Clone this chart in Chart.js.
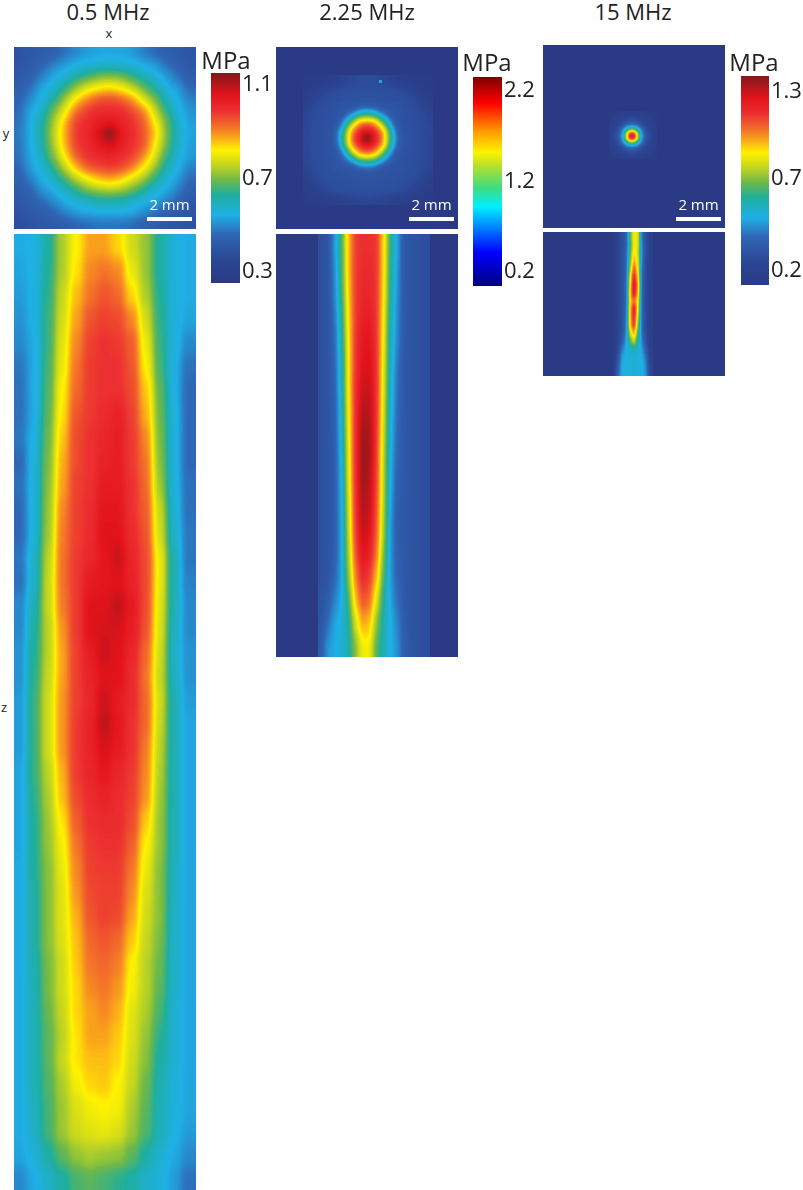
<!DOCTYPE html>
<html>
<head>
<meta charset="utf-8">
<title>Pressure field maps</title>
<script src="https://cdn.jsdelivr.net/npm/chart.js@4"></script>
<style>
  html, body { margin: 0; background: #fff; }
  #page { position: relative; width: 803px; height: 1190px; overflow: hidden; font-family: "Open Sans", sans-serif; color: #222; }
  #page canvas, .panel, .txt, .bar { position: absolute; }
  .panel { overflow: hidden; }
  .txt { white-space: nowrap; transform: translate(-50%, -50%); }
  .bar { background: #fff; }
</style>
</head>
<body>
<div id="page"></div>
<script>
// all field values are MPa x 100
const xy05 = [
  [39,41,43,44,47,50,52,53,53,53,52,49,46,44,42,40],
  [40,42,45,49,52,55,56,57,58,57,56,54,52,47,44,41],
  [41,44,49,54,56,62,66,70,71,70,65,60,56,52,47,43],
  [43,47,53,56,64,72,79,82,84,81,76,69,62,55,52,46],
  [45,50,55,62,72,83,90,95,96,94,89,78,70,59,54,49],
  [46,53,58,69,79,92,98,100,100,100,96,90,76,64,56,51],
  [47,54,61,73,85,97,100,103,105,102,99,94,82,69,58,52],
  [48,54,62,74,87,98,101,107,115,105,100,95,85,70,58,53],
  [47,54,61,73,86,97,100,104,108,103,99,95,82,69,58,52],
  [47,53,59,70,82,94,99,101,102,100,97,90,78,65,56,52],
  [45,52,56,64,75,86,94,96,98,96,91,82,72,60,55,49],
  [44,49,54,58,66,75,81,86,88,85,79,73,64,56,52,46],
  [42,45,51,54,58,64,70,73,74,73,69,63,56,54,49,44],
  [41,43,46,50,54,56,58,60,61,60,57,55,53,49,45,41],
  [39,41,43,45,49,52,53,54,54,54,53,50,47,44,42,40],
  [38,39,41,42,43,45,46,47,47,47,46,44,43,41,40,39]
];
const xz05 = [
  [54,55,62,74,82,88,88,84,77,72,62,56,54],
  [53,55,63,74,83,90,92,90,80,72,62,56,54],
  [52,55,64,76,86,92,95,93,84,74,63,56,54],
  [51,55,65,77,88,95,97,96,90,77,64,56,53],
  [50,54,65,79,90,97,99,98,94,80,65,56,50],
  [48,54,66,80,92,98,99,99,95,82,66,55,47],
  [47,54,67,82,93,98,99,99,96,85,68,55,46],
  [47,54,68,83,95,98,100,102,97,87,69,56,46],
  [48,55,69,85,96,99,101,103,98,90,70,56,46],
  [46,56,70,87,96,99,102,103,98,92,71,56,46],
  [47,56,71,88,97,99,104,104,99,93,73,56,47],
  [46,56,72,90,97,100,105,105,99,94,76,57,47],
  [46,56,73,91,97,100,106,106,100,95,77,58,48],
  [48,58,75,92,98,101,105,108,101,96,80,60,48],
  [47,58,76,92,98,104,105,106,102,96,80,60,49],
  [50,60,76,91,98,106,106,109,104,96,79,60,50],
  [50,62,75,89,98,106,107,107,103,95,78,59,50],
  [51,63,75,88,97,103,108,106,101,93,77,58,51],
  [51,64,76,88,97,102,106,106,100,92,76,59,51],
  [52,65,77,89,97,101,108,104,100,93,77,60,52],
  [52,65,77,89,98,102,109,105,99,93,76,60,53],
  [52,65,77,89,98,102,107,104,99,91,75,60,53],
  [53,65,75,87,98,101,105,101,98,90,74,60,53],
  [53,64,74,86,96,100,102,100,97,89,73,60,53],
  [53,63,73,83,94,99,100,100,96,85,72,60,53],
  [53,63,72,81,92,98,99,99,94,82,72,60,53],
  [54,63,71,80,90,97,98,98,92,80,71,59,53],
  [54,62,71,79,89,96,97,97,90,78,71,59,53],
  [54,62,71,79,87,95,97,96,88,77,71,58,53],
  [54,62,71,78,86,93,95,93,85,76,70,58,53],
  [54,61,70,77,85,92,93,91,82,75,69,58,53],
  [54,60,70,77,84,90,92,89,81,75,68,58,53],
  [54,60,69,76,84,88,90,87,79,74,66,57,53],
  [54,60,68,75,83,88,88,85,78,72,64,57,53],
  [54,60,68,76,83,86,86,84,77,71,62,57,53],
  [54,60,67,74,81,84,85,82,76,69,61,56,53],
  [54,59,66,73,78,81,82,81,74,68,60,56,53],
  [54,58,66,73,77,79,80,78,73,67,60,55,52],
  [53,56,62,68,72,74,73,72,68,62,57,54,50],
  [50,54,58,62,66,68,66,64,62,58,56,52,47]
];
const xy225Halo = [
  [12,12,12,16,28,33,34,33,28,16,12,12,12],
  [12,18,32,37,38,38,38,38,38,37,32,18,12],
  [16,32,37,38,39,40,40,40,39,38,37,32,16],
  [26,36,38,39,41,43,44,43,41,39,38,36,26],
  [28,37,38,41,44,46,47,46,44,41,38,37,28],
  [30,37,39,43,46,48,48,48,46,43,39,37,30],
  [30,37,40,44,47,48,48,48,47,44,40,37,30],
  [30,37,39,43,46,48,48,48,46,43,39,37,30],
  [28,37,38,41,44,46,47,46,44,41,38,37,28],
  [26,36,38,39,41,43,44,43,41,39,38,36,26],
  [16,32,37,38,39,40,40,40,39,38,37,32,16],
  [12,18,32,37,38,38,38,38,38,37,32,18,12],
  [12,12,12,14,20,26,28,26,20,14,12,12,12]
];
const xy225Core = [
  [40,40,41,42,43,44,45,45,44,43,42,41,40,40],
  [41,42,44,46,56,72,78,78,72,56,46,44,42,41],
  [42,44,52,72,90,106,114,114,106,90,72,52,44,42],
  [42,46,72,98,125,150,155,155,150,125,98,72,46,42],
  [43,56,90,125,155,175,188,188,175,155,125,90,56,43],
  [44,72,106,150,175,198,205,205,198,175,150,106,72,44],
  [45,78,114,155,188,205,232,232,205,188,155,114,78,45],
  [45,78,114,155,188,205,232,232,205,188,155,114,78,45],
  [44,72,106,150,175,198,205,205,198,175,150,106,72,44],
  [43,56,90,125,155,175,188,188,175,155,125,90,56,43],
  [42,46,72,98,125,150,155,155,150,125,98,72,46,42],
  [42,44,52,72,90,106,114,114,106,90,72,52,44,42],
  [41,42,44,46,56,72,78,78,72,56,46,44,42,41],
  [40,40,41,42,43,44,45,45,44,43,42,41,40,40]
];
const xy225Dot = [[75]];
const xz225 = [
  [38,42,72,110,160,190,195,195,192,155,105,74,45,42,40,36],
  [38,42,68,108,160,190,197,197,192,155,102,72,45,42,40,36],
  [38,42,66,106,158,190,198,200,192,153,100,70,45,42,40,36],
  [38,42,62,100,155,190,203,205,192,150,96,68,45,42,40,36],
  [38,42,58,95,152,192,208,210,193,148,92,66,45,42,40,36],
  [38,42,56,92,150,193,212,214,194,145,90,62,45,42,40,36],
  [38,42,54,90,150,195,216,218,195,143,88,60,45,42,40,36],
  [38,42,52,88,148,196,224,222,194,140,85,58,46,42,40,36],
  [38,42,52,85,146,196,228,225,192,138,82,56,46,42,40,36],
  [38,42,50,82,144,196,230,226,190,135,80,54,46,42,40,36],
  [38,42,50,80,142,195,228,222,188,134,78,52,46,42,40,36],
  [38,42,50,78,138,194,225,218,186,132,75,50,45,42,40,36],
  [38,42,50,76,135,190,220,212,182,130,72,50,45,42,40,36],
  [38,42,52,76,130,184,212,204,176,122,72,52,45,42,40,36],
  [38,42,56,76,124,174,198,190,162,112,72,54,45,42,40,36],
  [40,48,65,78,110,160,185,178,142,102,75,60,46,42,40,36],
  [42,60,75,84,100,140,165,160,124,96,80,66,48,42,40,36],
  [48,72,78,84,98,122,148,148,112,94,80,70,50,43,40,36]
];
const xy15 = [
  [15,15,15,17,18,19,19,18,17,15,15,15],
  [15,16,19,22,24,26,26,24,22,19,16,15],
  [15,19,24,26,30,32,32,30,26,24,19,15],
  [17,22,26,32,44,50,50,44,32,26,22,17],
  [18,24,30,44,62,80,80,62,44,30,24,18],
  [19,26,32,50,80,120,120,80,50,32,26,19],
  [19,26,32,50,80,120,120,80,50,32,26,19],
  [18,24,30,44,62,80,80,62,44,30,24,18],
  [17,22,26,32,44,50,50,44,32,26,22,17],
  [15,19,24,26,30,32,32,30,26,24,19,15],
  [15,16,19,22,24,26,26,24,22,19,16,15],
  [15,15,15,17,18,19,19,18,17,15,15,15]
];
const xz15 = [
  [15,22,30,36,70,92,88,42,30,18],
  [15,24,30,36,66,92,88,45,30,18],
  [15,24,30,38,70,96,86,45,30,18],
  [15,24,30,38,74,102,88,45,28,18],
  [15,24,30,38,80,112,92,42,28,18],
  [15,24,30,38,88,122,96,40,28,18],
  [15,24,30,40,92,128,102,40,26,18],
  [15,24,30,40,95,126,98,40,26,18],
  [15,24,30,40,94,108,92,40,26,18],
  [15,24,30,42,96,124,90,40,26,18],
  [15,24,30,42,96,122,84,40,26,18],
  [15,24,30,44,95,118,78,40,26,18],
  [15,24,32,46,84,102,70,42,28,18],
  [15,24,36,50,72,86,62,46,30,18],
  [15,26,44,52,58,62,56,50,36,20],
  [16,32,50,54,55,56,55,52,42,22],
  [18,36,52,54,55,56,55,54,46,24],
  [20,40,52,54,55,56,55,54,48,26]
];

// colorbar ranges and ticks (MPa)
const range05 = [0.253, 1.151];
const ticks05 = [1.1, 0.7, 0.3];
const labels05 = ['1.1', '0.7', '0.3'];
const range225 = [0.046, 2.354];
const ticks225 = [2.2, 1.2, 0.2];
const labels225 = ['2.2', '1.2', '0.2'];
const range15 = [0.114, 1.398];
const ticks15 = [1.3, 0.767, 0.2]; // the 0.7 label sits above its linear spot in the original
const labels15 = ['1.3', '0.7', '0.2'];

const mutedStops = [[0,'#2b3a85'],[0.1,'#2b4592'],[0.23,'#2f66b4'],[0.324,'#1fb0e6'],[0.42,'#1fae9c'],[0.49,'#6db84a'],[0.56,'#c2d520'],[0.633,'#fff200'],[0.69,'#fbaa19'],[0.75,'#f26a2b'],[0.82,'#ec2f30'],[0.895,'#e3131b'],[1,'#7f1a1a']];
const jetStops = [[0,'#000080'],[0.16,'#0000ff'],[0.38,'#00f0ff'],[0.47,'#3fdc80'],[0.57,'#b0e030'],[0.64,'#fff200'],[0.74,'#ff9a00'],[0.876,'#ff0000'],[1,'#800000']];

const page = document.getElementById('page');

function hexRgb(h) {
  return [parseInt(h.slice(1,3),16), parseInt(h.slice(3,5),16), parseInt(h.slice(5,7),16)];
}

function buildLut(stops) {
  const lut = [];
  for (let i = 0; i < 256; i++) {
    const t = i / 255;
    let k = 0;
    while (k < stops.length - 2 && t > stops[k+1][0]) k++;
    const a = hexRgb(stops[k][1]), b = hexRgb(stops[k+1][1]);
    const f = Math.min(1, (t - stops[k][0]) / (stops[k+1][0] - stops[k][0]));
    lut.push([0,1,2].map(c => Math.round(a[c] + (b[c]-a[c]) * f)));
  }
  return lut;
}
const mutedLut = buildLut(mutedStops);

// box blur with clamped edges, step is the distance between neighbours along the pass
function boxPass(src, count, lines, step, lineStep, r) {
  const out = new Float32Array(src.length);
  for (let l = 0; l < lines; l++) {
    for (let i = 0; i < count; i++) {
      let sum = 0;
      for (let k = -r; k <= r; k++) {
        const j = Math.max(0, Math.min(count - 1, i + k));
        sum += src[l * lineStep + j * step];
      }
      out[l * lineStep + i * step] = sum / (2 * r + 1);
    }
  }
  return out;
}

// bars are painted as gray = value, then smoothed and pushed through the colormap
function fieldPlugin(rx, ry) {
  return {
    id: 'fieldMap',
    afterDatasetsDraw(chart) {
      const ctx = chart.ctx, w = chart.canvas.width, h = chart.canvas.height;
      const img = ctx.getImageData(0, 0, w, h);
      const d = img.data;
      let f = new Float32Array(w * h);
      for (let i = 0; i < f.length; i++) f[i] = d[i * 4];
      for (let pass = 0; pass < 3; pass++) {
        if (rx) f = boxPass(f, w, h, 1, w, rx);
        if (ry) f = boxPass(f, h, w, w, 1, ry);
      }
      for (let i = 0; i < f.length; i++) {
        const col = mutedLut[Math.round(f[i])];
        d[i*4] = col[0]; d[i*4+1] = col[1]; d[i*4+2] = col[2]; d[i*4+3] = 255;
      }
      ctx.putImageData(img, 0, 0);
    }
  };
}

function heatmap(parent, rows, range, left, top, w, h, rx, ry) {
  const canvas = document.createElement('canvas');
  canvas.width = w; canvas.height = h;
  canvas.style.left = left + 'px';
  canvas.style.top = top + 'px';
  parent.appendChild(canvas);
  const gray = v => {
    const g = Math.round(255 * (v / 100 - range[0]) / (range[1] - range[0]));
    return 'rgb(' + g + ',' + g + ',' + g + ')';
  };
  new Chart(canvas, {
    type: 'bar',
    data: {
      labels: rows[0].map((v, i) => i),
      datasets: rows.map((row, r) => ({
        data: row.map(() => [r, r + 1]),
        backgroundColor: row.map(gray),
        grouped: false,
        barPercentage: 1,
        categoryPercentage: 1,
        inflateAmount: 1
      }))
    },
    options: {
      responsive: false,
      animation: false,
      plugins: { legend: { display: false }, tooltip: { enabled: false } },
      scales: {
        x: { display: false },
        y: { display: false, reverse: true, min: 0, max: rows.length }
      }
    },
    plugins: [fieldPlugin(rx, ry)]
  });
}

function panel(left, top, w, h, bg) {
  const d = document.createElement('div');
  d.className = 'panel';
  d.style.cssText = 'left:' + left + 'px;top:' + top + 'px;width:' + w + 'px;height:' + h + 'px;background:' + bg;
  page.appendChild(d);
  return d;
}

function colorbar(range, ticks, labels, stops, left, top, w, h) {
  const canvas = document.createElement('canvas');
  canvas.width = w + 36; canvas.height = h;
  canvas.style.left = left + 'px';
  canvas.style.top = top + 'px';
  page.appendChild(canvas);
  new Chart(canvas, {
    type: 'bar',
    data: {
      labels: ['MPa'],
      datasets: [{
        data: [range],
        barPercentage: 1,
        categoryPercentage: 1,
        backgroundColor(ctx) {
          const a = ctx.chart.chartArea;
          if (!a) return stops[0][1];
          const g = ctx.chart.ctx.createLinearGradient(0, a.bottom, 0, a.top);
          stops.forEach(s => g.addColorStop(s[0], s[1]));
          return g;
        }
      }]
    },
    options: {
      responsive: false,
      animation: false,
      plugins: { legend: { display: false }, tooltip: { enabled: false } },
      scales: {
        x: { display: false },
        y: {
          position: 'right',
          min: range[0],
          max: range[1],
          grid: { display: false, drawTicks: false },
          border: { display: false },
          afterBuildTicks(scale) { scale.ticks = ticks.map(v => ({ value: v })); },
          afterFit(scale) {
            scale.width = 36;
            // keep the bar full height, the labels sit well inside it
            scale.paddingTop = 0;
            scale.paddingBottom = 0;
          },
          ticks: {
            autoSkip: false,
            padding: 2,
            color: '#222',
            font: { family: '"Open Sans"', size: 22 },
            callback: v => labels[ticks.indexOf(v)]
          }
        }
      }
    }
  });
}

function text(str, x, y, size, color) {
  const s = document.createElement('div');
  s.className = 'txt';
  s.textContent = str;
  s.style.cssText = 'left:' + x + 'px;top:' + y + 'px;font-size:' + size + 'px;z-index:3' + (color ? ';color:' + color : '');
  page.appendChild(s);
}

function scaleBar(x, y) {
  const b = document.createElement('div');
  b.className = 'bar';
  b.style.cssText = 'left:' + x + 'px;top:' + y + 'px;width:45px;height:4px;z-index:3';
  page.appendChild(b);
  text('2 mm', x + 22.5, y - 13, 15, '#fff');
}

const navy = '#2b3a85';

// 0.5 MHz
heatmap(panel(14, 47, 182, 182, navy), xy05, range05, 0, 0, 182, 182, 4, 4);
heatmap(panel(14, 234, 182, 956, navy), xz05, range05, 0, 0, 182, 956, 3, 6);
colorbar(range05, ticks05, labels05, mutedStops, 211, 73, 29, 210);

// 2.25 MHz
const p225 = panel(276, 47, 182, 182, navy);
heatmap(p225, xy225Halo, range225, 27, 28, 130, 130, 4, 4);
heatmap(p225, xy225Core, range225, 57, 55, 70, 70, 2, 2);
heatmap(p225, xy225Dot, range225, 103, 33, 3, 3, 0, 0);
const p225z = panel(276, 234, 182, 423, navy);
heatmap(p225z, xz225, range225, 42, 0, 112, 423, 2, 7);
colorbar(range225, ticks225, labels225, jetStops, 473, 77, 29, 209);

// 15 MHz
const p15 = panel(543, 45, 182, 183, navy);
heatmap(p15, xy15, range15, 66, 66, 48, 48, 1, 1);
const p15z = panel(543, 232, 182, 144, navy);
heatmap(p15z, xz15, range15, 70, 0, 40, 144, 1, 2);
colorbar(range15, ticks15, labels15, mutedStops, 741, 76, 28, 209);

// text and scale bars
text('0.5 MHz', 108, 11, 22);
text('2.25 MHz', 367, 11, 22);
text('15 MHz', 633, 11, 22);
text('x', 109, 33, 13);
text('y', 6, 133, 13);
text('z', 4, 707, 13);
text('MPa', 226, 59, 24);
text('MPa', 487, 61, 24);
text('MPa', 754, 61, 24);
scaleBar(147, 217);
scaleBar(409, 217);
scaleBar(676, 217);
</script>
</body>
</html>
